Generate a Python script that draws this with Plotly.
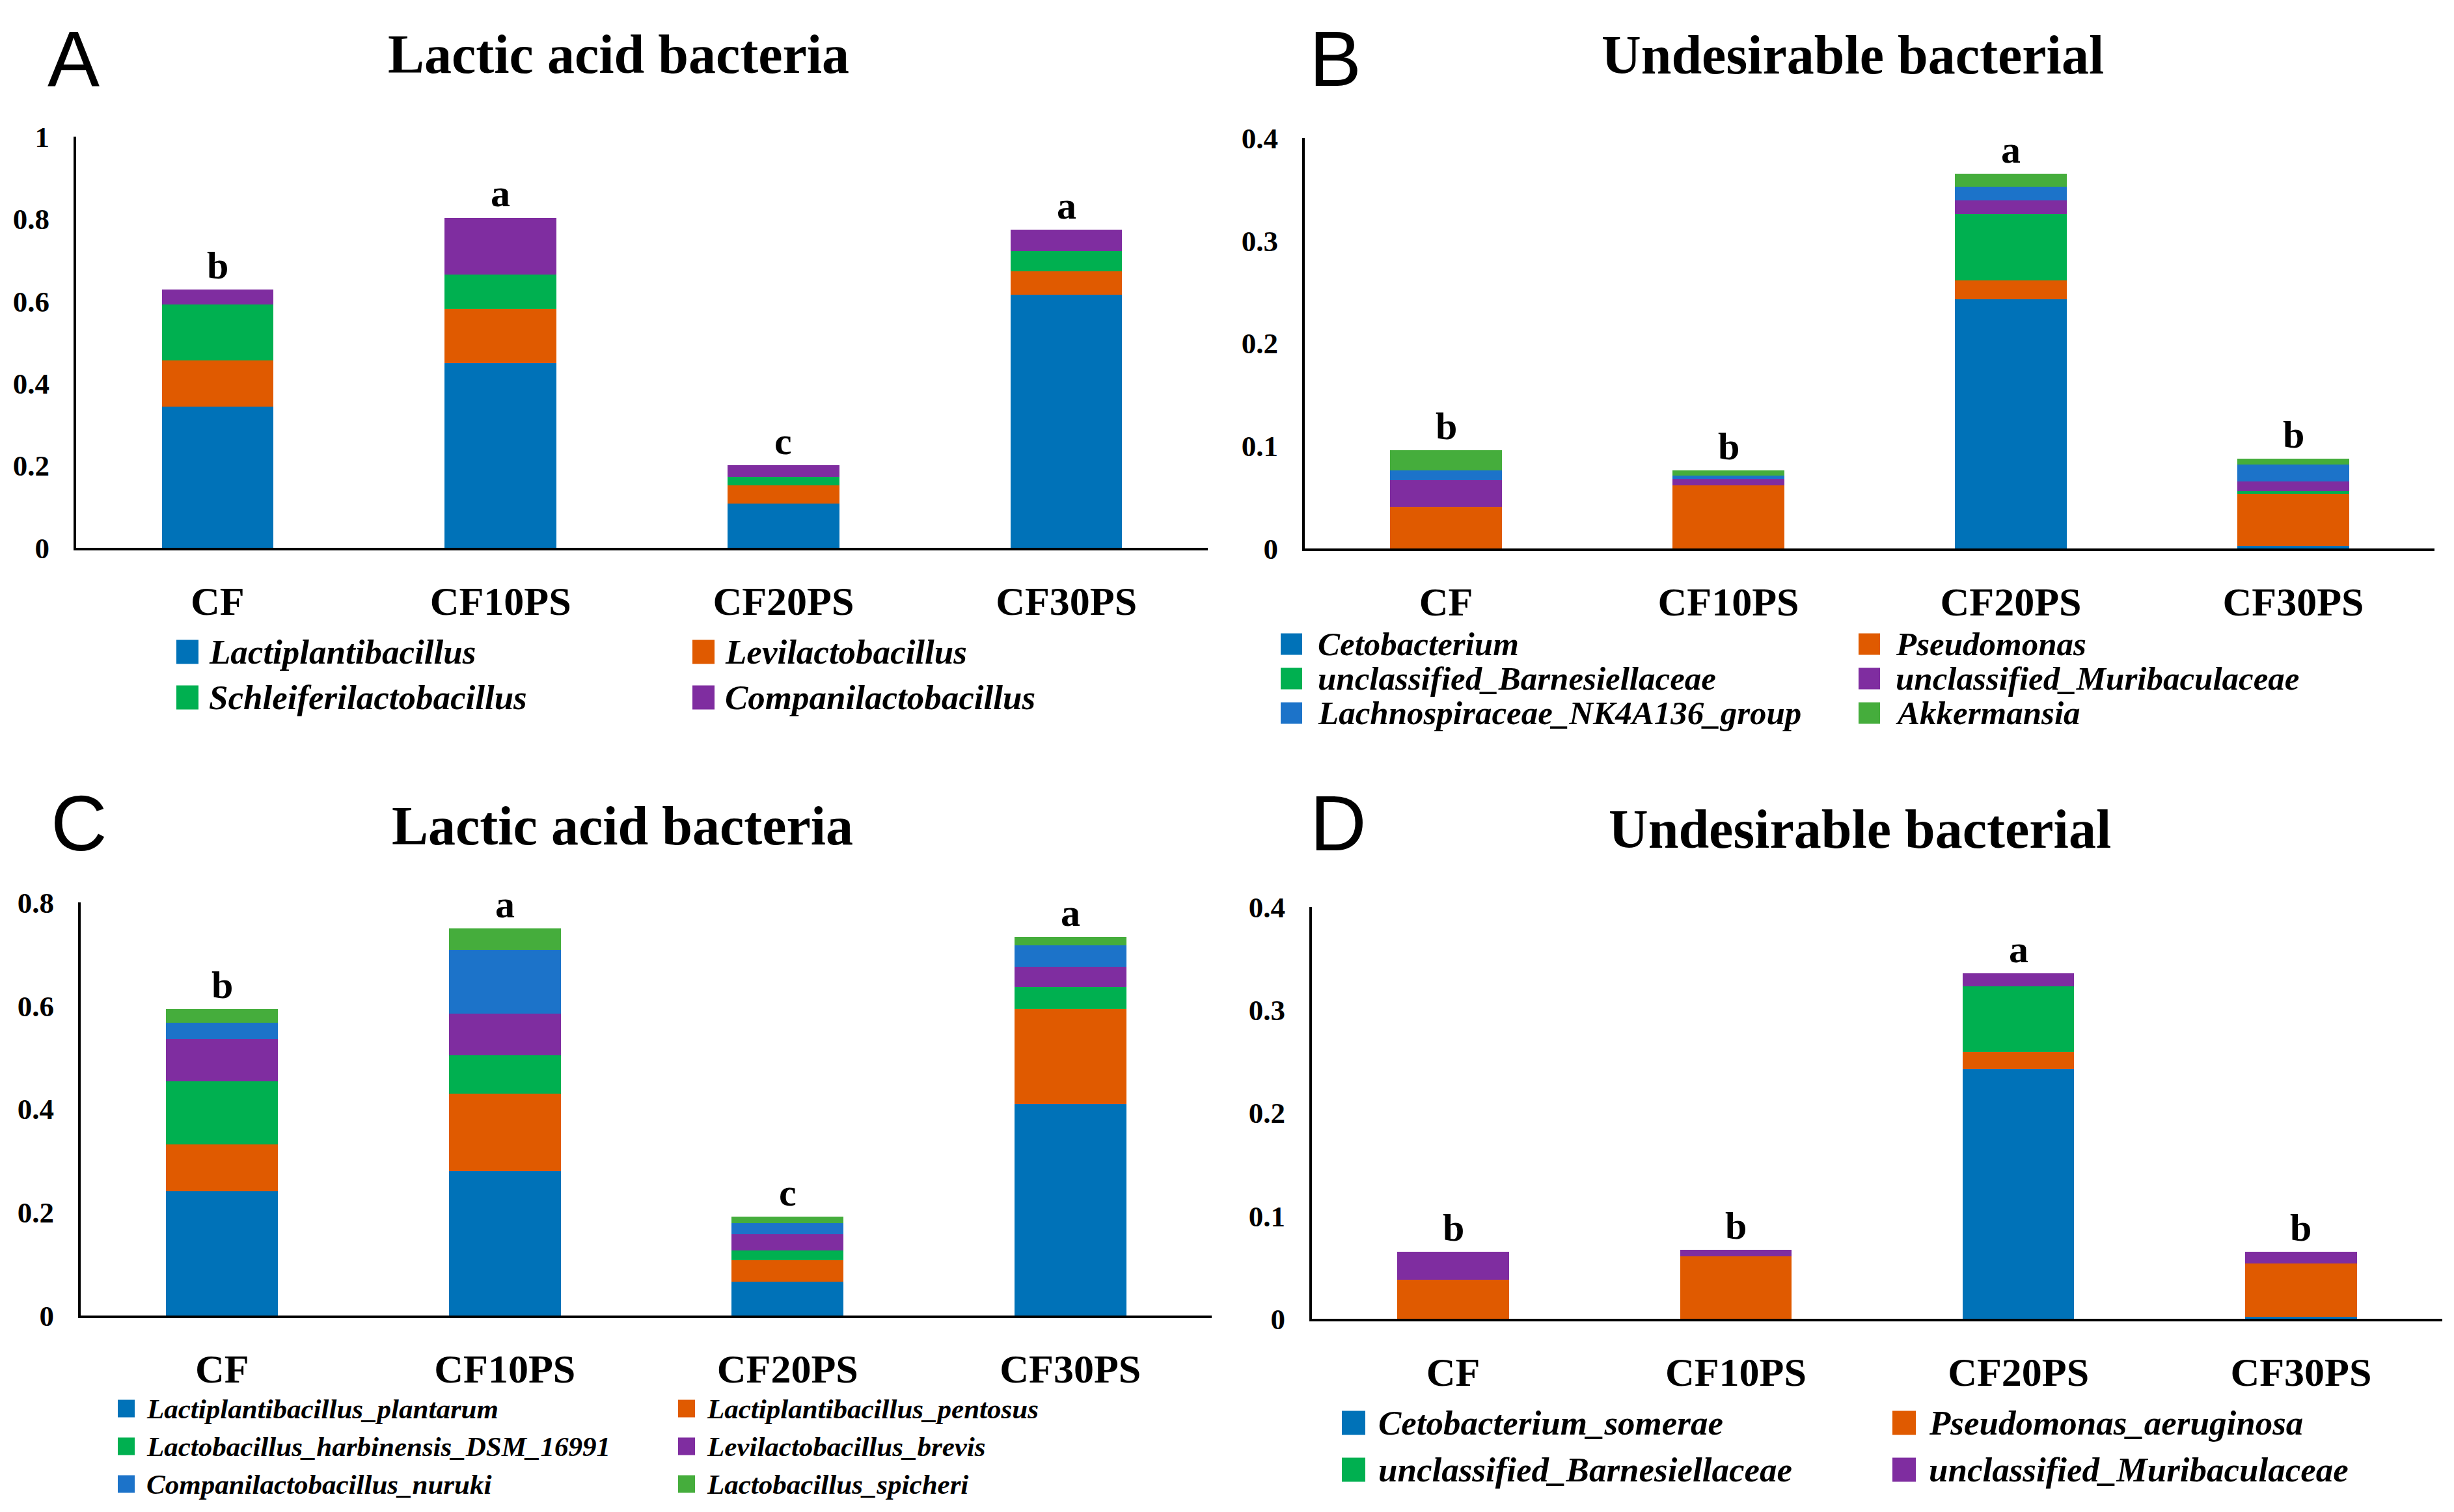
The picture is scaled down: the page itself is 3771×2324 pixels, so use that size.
import plotly.graph_objects as go

W, H = 3771, 2324
SHIFT = 8  # the page puts the figure 8 px in from the top-left corner
SERIF = "Liberation Serif"
SANS = "Liberation Sans"

categories = ["CF", "CF10PS", "CF20PS", "CF30PS"]

# A: lactic acid bacteria, genus level
a_names = ["Lactiplantibacillus", "Levilactobacillus",
           "Schleiferilactobacillus", "Companilactobacillus"]
a_lactiplantibacillus = [0.343, 0.449, 0.107, 0.615]
a_levilactobacillus = [0.113, 0.131, 0.045, 0.057]
a_schleiferilactobacillus = [0.135, 0.084, 0.020, 0.049]
a_companilactobacillus = [0.037, 0.139, 0.029, 0.053]
a_letters = ["b", "a", "c", "a"]

# B: undesirable bacteria, genus level
b_names = ["Cetobacterium", "Pseudomonas", "unclassified_Barnesiellaceae",
           "unclassified_Muribaculaceae", "Lachnospiraceae_NK4A136_group", "Akkermansia"]
b_cetobacterium = [0.0, 0.0, 0.2427, 0.0023]
b_pseudomonas = [0.0404, 0.0617, 0.0184, 0.0512]
b_barnesiellaceae = [0.0, 0.0, 0.0649, 0.0021]
b_muribaculaceae = [0.0263, 0.0064, 0.0132, 0.0094]
b_lachnospiraceae = [0.0094, 0.0030, 0.0132, 0.0169]
b_akkermansia = [0.0199, 0.0050, 0.0126, 0.0058]
b_letters = ["b", "b", "a", "b"]

# C: lactic acid bacteria, species level
c_names = ["Lactiplantibacillus_plantarum", "Lactiplantibacillus_pentosus",
           "Lactobacillus_harbinensis_DSM_16991", "Levilactobacillus_brevis",
           "Companilactobacillus_nuruki", "Lactobacillus_spicheri"]
c_plantarum = [0.241, 0.280, 0.066, 0.409]
c_pentosus = [0.090, 0.149, 0.041, 0.185]
c_harbinensis = [0.123, 0.075, 0.019, 0.042]
c_brevis = [0.081, 0.081, 0.031, 0.039]
c_nuruki = [0.032, 0.123, 0.022, 0.042]
c_spicheri = [0.027, 0.042, 0.013, 0.016]
c_letters = ["b", "a", "c", "a"]

# D: undesirable bacteria, species level
d_names = ["Cetobacterium_somerae", "Pseudomonas_aeruginosa",
           "unclassified_Barnesiellaceae", "unclassified_Muribaculaceae"]
d_somerae = [0.0, 0.0, 0.2426, 0.002]
d_aeruginosa = [0.0377, 0.0604, 0.0164, 0.0519]
d_barnesiellaceae = [0.0, 0.0, 0.0636, 0.0]
d_muribaculaceae = [0.0275, 0.0063, 0.0127, 0.0113]
d_letters = ["b", "b", "a", "b"]

COLORS = ["#0072B8", "#E05A00", "#00B050", "#7F2DA0", "#1C73C9", "#45AD3C"]

fig = go.Figure()
shapes, annotations = [], []


def px_x(x):
    return (x - SHIFT) / W


def px_y(y):
    return 1 - (y - SHIFT) / H


def add_panel(idx, series, names, letters):
    xa = "x" if idx == 1 else f"x{idx}"
    ya = "y" if idx == 1 else f"y{idx}"
    for vals, name, color in zip(series, names, COLORS):
        fig.add_trace(go.Bar(
            x=categories, y=vals, name=name,
            marker=dict(color=color, line=dict(width=0)),
            xaxis=xa, yaxis=ya, showlegend=False,
        ))
    totals = [sum(v) for v in zip(*series)]
    for cat, tot, letter in zip(categories, totals, letters):
        annotations.append(dict(
            x=cat, y=tot, xref=xa, yref=ya, text=letter, showarrow=False,
            yanchor="bottom", yshift=2,
            font=dict(family=SERIF, size=60, color="black", weight="bold"),
        ))


def add_legend(names, x0, y0, col_dx, row_dy, box_w, box_h, gap, size):
    for i, name in enumerate(names):
        r, c = divmod(i, 2)
        x = x0 + c * col_dx
        yc = y0 + r * row_dy
        shapes.append(dict(
            type="rect", xref="paper", yref="paper", line=dict(width=0),
            fillcolor=COLORS[i],
            x0=px_x(x), x1=px_x(x + box_w),
            y0=px_y(yc + box_h / 2), y1=px_y(yc - box_h / 2),
        ))
        annotations.append(dict(
            x=px_x(x + box_w + gap), y=px_y(yc), xref="paper", yref="paper",
            text=name, showarrow=False, xanchor="left", yanchor="middle",
            font=dict(family=SERIF, size=size, color="black",
                      weight="bold", style="italic"),
        ))


def add_heading(letter, lx, ly, title, tx, ty):
    annotations.append(dict(
        x=px_x(lx), y=px_y(ly), xref="paper", yref="paper", text=letter,
        showarrow=False, xanchor="center", yanchor="middle",
        font=dict(family=SANS, size=120, color="black"),
    ))
    annotations.append(dict(
        x=px_x(tx), y=px_y(ty), xref="paper", yref="paper", text=title,
        showarrow=False, xanchor="center", yanchor="middle",
        font=dict(family=SERIF, size=84, color="black", weight="bold"),
    ))


add_panel(1, [a_lactiplantibacillus, a_levilactobacillus,
              a_schleiferilactobacillus, a_companilactobacillus], a_names, a_letters)
add_panel(2, [b_cetobacterium, b_pseudomonas, b_barnesiellaceae,
              b_muribaculaceae, b_lachnospiraceae, b_akkermansia], b_names, b_letters)
add_panel(3, [c_plantarum, c_pentosus, c_harbinensis, c_brevis,
              c_nuruki, c_spicheri], c_names, c_letters)
add_panel(4, [d_somerae, d_aeruginosa, d_barnesiellaceae,
              d_muribaculaceae], d_names, d_letters)

add_heading("A", 113, 90, "Lactic acid bacteria", 950, 83)
add_heading("B", 2052, 90, "Undesirable bacterial", 2847, 85)
add_heading("C", 121, 1265, "Lactic acid bacteria", 956, 1269)
add_heading("D", 2056, 1265, "Undesirable bacterial", 2858, 1274)

add_legend(a_names, 271, 1002, 793, 70, 34, 37, 14, 53)
add_legend(b_names, 1968, 990, 888, 53, 33, 33, 22, 51)
add_legend(c_names, 181, 2165, 861, 58, 26, 27, 16, 43)
add_legend(d_names, 2062, 2187, 846, 72, 36, 37, 18, 53)

xbase = dict(
    type="category", showline=True, linecolor="black", linewidth=4,
    ticks="", showgrid=False, zeroline=False, ticklabelstandoff=25,
    automargin=False,
    tickfont=dict(family=SERIF, size=62, color="black", weight="bold"),
)
ybase = dict(
    showline=True, linecolor="black", linewidth=4, ticks="",
    showgrid=False, zeroline=False, ticklabelstandoff=28,
    automargin=False,
    tickfont=dict(family=SERIF, size=45, color="black", weight="bold"),
)

fig.update_layout(
    template="none",
    width=W, height=H, autosize=False,
    margin=dict(l=0, r=0, t=0, b=0, pad=0),
    paper_bgcolor="white", plot_bgcolor="white",
    barmode="stack", bargap=0.605,
    showlegend=False,
    xaxis=dict(xbase, domain=[px_x(117), px_x(1856)], anchor="y"),
    yaxis=dict(ybase, domain=[px_y(842), px_y(210)], range=[0, 1], dtick=0.2, anchor="x"),
    xaxis2=dict(xbase, domain=[px_x(2005), px_x(3741)], anchor="y2"),
    yaxis2=dict(ybase, domain=[px_y(843), px_y(212)], range=[0, 0.4], dtick=0.1, anchor="x2"),
    xaxis3=dict(xbase, domain=[px_x(124), px_x(1862)], anchor="y3"),
    yaxis3=dict(ybase, domain=[px_y(2022), px_y(1387)], range=[0, 0.8], dtick=0.2, anchor="x3"),
    xaxis4=dict(xbase, domain=[px_x(2016), px_x(3753)], anchor="y4"),
    yaxis4=dict(ybase, domain=[px_y(2027), px_y(1394)], range=[0, 0.4], dtick=0.1, anchor="x4"),
    shapes=shapes,
    annotations=annotations,
)

fig.write_html("out.html")
